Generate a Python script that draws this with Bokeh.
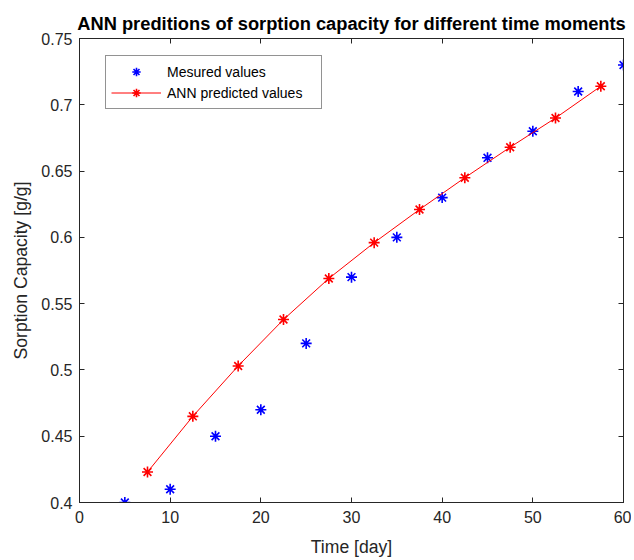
from bokeh.plotting import figure
from bokeh.models import (Range1d, LinearAxis, FixedTicker, CustomJSTickFormatter,
                          Legend, LegendItem, ColumnDataSource)
from bokeh.embed import file_html
from bokeh.resources import INLINE

measured_time = [5, 10, 15, 20, 25, 30, 35, 40, 45, 50, 55, 60]
measured_capacity = [0.40, 0.41, 0.45, 0.47, 0.52, 0.57, 0.60, 0.63, 0.66, 0.68, 0.71, 0.73]
predicted_time = [7.5, 12.5, 17.5, 22.5, 27.5, 32.5, 37.5, 42.5, 47.5, 52.5, 57.5]
predicted_capacity = [0.423, 0.465, 0.503, 0.538, 0.569, 0.596, 0.621, 0.645, 0.668, 0.690, 0.714]
x_ticks = [0, 10, 20, 30, 40, 50, 60]
y_ticks = [0.4, 0.45, 0.5, 0.55, 0.6, 0.65, 0.7, 0.75]

AX = "#262626"
FONT = "Liberation Sans"

p = figure(frame_width=544, frame_height=464,
           x_range=Range1d(0, 60), y_range=Range1d(0.4, 0.75),
           output_backend="svg", toolbar_location=None,
           min_border_left=79, min_border_right=8, min_border_top=38, min_border_bottom=52,
           title="ANN preditions of sorption capacity for different time moments")
p.background_fill_color = "white"
p.border_fill_color = "white"
p.outline_line_color = AX
p.xgrid.visible = False
p.ygrid.visible = False

p.title.text_font = FONT
p.title.text_font_size = "18.3px"
p.title.text_font_style = "bold"
p.title.text_color = "black"
p.title.align = "center"
p.title.standoff = 9

yfmt = CustomJSTickFormatter(code="return tick.toFixed(2).replace(/0$/, '')")
xfmt = CustomJSTickFormatter(code="return tick.toFixed(0)")

def style(ax, ticks, fmt, labels=True):
    ax.ticker = FixedTicker(ticks=ticks)
    ax.formatter = fmt
    ax.major_tick_in = 5
    ax.major_tick_out = 0
    ax.minor_tick_in = 0
    ax.minor_tick_out = 0
    ax.axis_line_color = AX
    ax.major_tick_line_color = AX
    ax.major_label_text_font = FONT
    if labels:
        ax.major_label_text_color = AX
        ax.major_label_text_font_size = "16px"
        ax.axis_label_text_font = FONT
        ax.axis_label_text_font_size = "17.6px"
        ax.axis_label_text_font_style = "normal"
        ax.axis_label_text_color = AX
    else:
        ax.major_label_text_color = None
        ax.major_label_text_font_size = "1px"
        ax.major_label_standoff = 0

style(p.xaxis[0], x_ticks, xfmt)
style(p.yaxis[0], y_ticks, yfmt)
p.xaxis[0].axis_label = "Time [day]"
p.yaxis[0].axis_label = "Sorption Capacity [g/g]"
p.xaxis[0].major_label_standoff = 8
p.yaxis[0].major_label_standoff = 7
p.xaxis[0].axis_label_standoff = 11
p.yaxis[0].axis_label_standoff = 7

top = LinearAxis()
right = LinearAxis()
style(top, x_ticks, xfmt, labels=False)
style(right, y_ticks, yfmt, labels=False)
p.add_layout(top, "above")
p.add_layout(right, "right")

meas_src = ColumnDataSource(dict(x=measured_time, y=measured_capacity))
pred_src = ColumnDataSource(dict(x=predicted_time, y=predicted_capacity))

r_meas = p.scatter("x", "y", source=meas_src, marker="asterisk", size=11,
                   line_color="blue", line_width=1.6)
r_line = p.line("x", "y", source=pred_src, line_color="red", line_width=1)
r_pred = p.scatter("x", "y", source=pred_src, marker="asterisk", size=11,
                   line_color="red", line_width=1.6)

legend = Legend(items=[LegendItem(label="Mesured values", renderers=[r_meas]),
                       LegendItem(label="ANN predicted values", renderers=[r_line, r_pred])],
                location=(26, 393), glyph_width=50, glyph_height=21, label_height=21,
                padding=5, spacing=0, label_standoff=6, label_width=149, margin=0,
                label_text_font=FONT, label_text_font_size="14px", label_text_color="black",
                border_line_color=AX, border_line_width=1,
                background_fill_color="white", background_fill_alpha=1)
p.add_layout(legend, "center")

open("out.html", "w").write(file_html(p, INLINE))
